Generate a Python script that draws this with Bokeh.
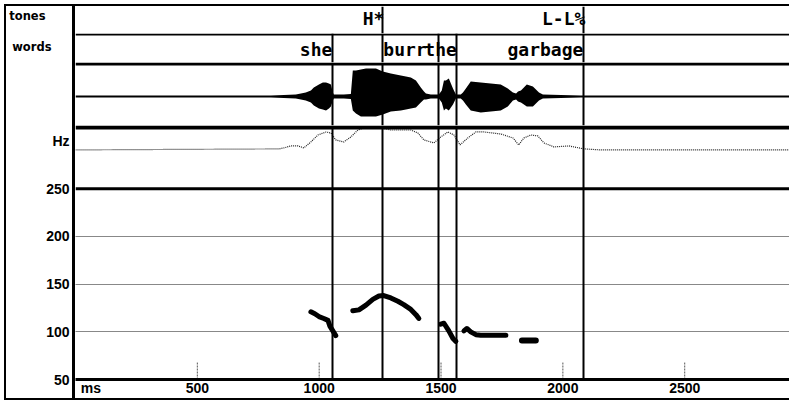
from bokeh.plotting import figure
from bokeh.layouts import column
from bokeh.models import Range1d, Span, FixedTicker
from bokeh.core.properties import value
from bokeh.embed import file_html
from bokeh.resources import INLINE

# ---------------- data ----------------
tone_times = [1259, 2084]
tone_labels = ["H*", "L-L%"]

word_ends = [1054, 1259, 1489, 1565, 2084]
word_labels = ["she", "", "burr", "the", "garbage"]
word_starts = [800, 1054, 1259, 1489, 1565]
word_anchor = ["end", "end", "start", "end", "end"]

# waveform envelope (ms, upper / lower amplitude)
wave_t = [0, 802, 855, 904, 925, 945, 966, 978, 999, 1015, 1028, 1040, 1048, 1056, 1060,
          1101, 1130, 1138, 1151, 1171, 1192, 1233, 1261, 1294, 1335, 1356, 1376, 1397, 1417,
          1430, 1438, 1458, 1491, 1503, 1512, 1520, 1532, 1549, 1561, 1581, 1590, 1602, 1622,
          1663, 1704, 1745, 1774, 1795, 1808, 1816, 1828, 1852, 1877, 1902, 1918, 1992, 2074,
          2115, 2930]
wave_hi = [1, 1, 1.5, 2, 3, 4, 6, 9, 12, 14, 14, 13, 12, 4, 2,
           2, 2.5, 26, 26, 27, 28, 28, 25, 23, 21, 20, 19, 16, 9,
           5, 3, 2, 2, 6, 16, 16, 18, 8, 2, 2, 4, 8, 15,
           14, 13, 12, 8, 4, 3, 5, 6, 12, 10, 4, 2, 1.5, 1,
           1, 1]
wave_lo = [-1, -1, -1.5, -2, -3, -4, -6, -9, -12, -13, -14, -12, -10, -4, -2,
           -2, -2.5, -14, -17, -20, -20, -20, -18, -15, -14, -13, -12, -11, -6,
           -3, -3, -2, -2, -6, -14, -12, -14, -8, -2, -2, -4, -8, -14,
           -16, -15, -14, -10, -4, -3, -5, -6, -10, -10, -4, -2, -1.5, -1,
           -1, -1]

# energy contour (ms, level)
energy_t = [0, 835, 855, 884, 913, 937, 966, 995, 1028, 1048, 1068, 1101, 1130, 1159, 1183,
            1253, 1294, 1376, 1405, 1430, 1471, 1499, 1528, 1553, 1578, 1610, 1643, 1676,
            1745, 1795, 1819, 1840, 1869, 1897, 1922, 1963, 2025, 2086, 2156, 2930]
energy_v = [39, 40, 41, 43, 43, 41, 47, 54, 57, 56, 49, 47, 52, 59, 61,
            61, 59, 59, 56, 49, 46, 52, 57, 54, 44, 51, 57, 57,
            55, 51, 44, 51, 54, 53, 46, 42, 43, 40, 39, 39]

# F0 contour pieces (ms, Hz)
f0_she_t = [966, 982, 999, 1019, 1036, 1044, 1056, 1068]
f0_she_hz = [121, 119, 116, 114, 112, 106, 101, 96]
f0_burr_t = [1138, 1163, 1192, 1220, 1245, 1265, 1294, 1323, 1347, 1376, 1397, 1409]
f0_burr_hz = [122, 123, 128, 134, 137.5, 138, 135.5, 132, 128.5, 123.5, 118, 114]
f0_the_t = [1499, 1512, 1532, 1549, 1561]
f0_the_hz = [108, 109, 101, 93, 90]
f0_gar_t = [1594, 1606, 1622, 1643, 1663, 1704, 1745, 1766]
f0_gar_hz = [101, 103.5, 100, 97, 96.5, 96.5, 96.5, 96.5]
f0_bage_t = [1832, 1852, 1873, 1889]
f0_bage_hz = [91, 91, 91, 91]

x_ticks = [500, 1000, 1500, 2000, 2500]
x_unit_pos = 63
x_tick_labels = {63: "ms"}
hz_ticks = [50, 100, 150, 200, 250, 300]
hz_tick_labels = {300: "Hz"}
hz_grid = [100, 150, 200]

# ---------------- layout constants ----------------
W = 783
LB = 69
X_END = 2930
TONE_H, WORD_H, WAVE_H = 27, 29, 63
MAIN_FRAME, F0_PX, AX_PX = 255, 191.5, 18
EN_PX = MAIN_FRAME - F0_PX

x_range = Range1d(0, X_END)
TIER_FONT = "DejaVu Sans Mono"
AX_FONT = "Liberation Sans"


def base_fig(h, yr, with_y_axis=False):
    p = figure(width=W, height=h, x_range=x_range, y_range=yr,
               output_backend="svg", toolbar_location=None,
               x_axis_location=None, y_axis_location="left" if with_y_axis else None,
               min_border_left=LB, min_border_right=0,
               min_border_top=0, min_border_bottom=0,
               border_fill_color=None, background_fill_color=None,
               outline_line_color=None)
    p.grid.visible = False
    return p


def side_label(p, text, y, standoff):
    ax = p.yaxis[0]
    ax.ticker = FixedTicker(ticks=[y])
    ax.major_label_overrides = {y: text}
    ax.axis_line_color = None
    ax.major_tick_in = 0
    ax.major_tick_out = 0
    ax.minor_tick_line_color = None
    ax.major_label_standoff = standoff
    ax.major_label_text_font = "DejaVu Sans"
    ax.major_label_text_font_style = "bold"
    ax.major_label_text_font_size = "11.5px"
    ax.major_label_text_color = "black"


tier_style = dict(text_font=value(TIER_FONT), text_font_style="bold",
                  text_font_size="18px", text_baseline="middle", text_color="black")

# ---- tones tier ----
tones = base_fig(TONE_H, Range1d(0, 100), with_y_axis=True)
tones.vspan(x=tone_times, line_color="black", line_width=2)
tones.text(x=tone_times, y=[55] * len(tone_times), text=tone_labels,
           text_align="right", x_offset=2, **tier_style)
side_label(tones, "tones", 66, 30)

# ---- words tier ----
words = base_fig(WORD_H, Range1d(0, 100), with_y_axis=True)
upp_w = 100 / WORD_H
words.vspan(x=word_ends, line_color="black", line_width=2)
end_x = [e for e, a in zip(word_ends, word_anchor) if a == "end"]
end_t = [w for w, a in zip(word_labels, word_anchor) if a == "end"]
start_x = [s for s, a in zip(word_starts, word_anchor) if a == "start"]
start_t = [w for w, a in zip(word_labels, word_anchor) if a == "start"]
words.text(x=end_x, y=[44] * len(end_x), text=end_t, text_align="right",
           x_offset=0, **tier_style)
words.text(x=start_x, y=[44] * len(start_x), text=start_t, text_align="left",
           x_offset=1, **tier_style)
words.add_layout(Span(location=100 - 1 * upp_w, dimension="width",
                      line_color="black", line_width=2))
side_label(words, "words", 52, 24)

# ---- waveform ----
wave = base_fig(WAVE_H, Range1d(-29, 34))
wave.varea(x=wave_t, y1=wave_lo, y2=wave_hi, fill_color="black")
wave.vspan(x=word_ends, line_color="black", line_width=2)
wave.add_layout(Span(location=34 - 1.5, dimension="width", line_color="black", line_width=3))

# ---- energy + F0 ----
hz_per_px = (250 - 50) / F0_PX
y_top = 250 + EN_PX * hz_per_px

main = figure(width=W, height=MAIN_FRAME + AX_PX, x_range=x_range,
              y_range=Range1d(50, y_top), output_backend="svg", toolbar_location=None,
              min_border_left=LB, min_border_right=0, min_border_top=0,
              min_border_bottom=AX_PX, border_fill_color=None,
              background_fill_color=None, outline_line_color=None)
main.extra_y_ranges = {"en": Range1d(-F0_PX, EN_PX)}

main.xgrid.visible = False
main.ygrid.ticker = FixedTicker(ticks=hz_grid)
main.ygrid.grid_line_color = "#111111"
main.ygrid.grid_line_dash = "1 1"
main.ygrid.grid_line_width = 1.2

xa = main.xaxis[0]
xa.ticker = FixedTicker(ticks=[x_unit_pos] + x_ticks)
xa.major_label_overrides = x_tick_labels
xa.axis_line_width = 3
xa.axis_line_color = "black"
xa.major_tick_in = 0
xa.major_tick_out = 0
xa.minor_tick_line_color = None
xa.major_label_standoff = 0
xa.major_label_text_font = AX_FONT
xa.major_label_text_font_style = "bold"
xa.major_label_text_font_size = "14px"
xa.major_label_text_color = "black"

ya = main.yaxis[0]
ya.ticker = FixedTicker(ticks=hz_ticks)
ya.major_label_overrides = hz_tick_labels
ya.axis_line_color = None
ya.major_tick_in = 0
ya.major_tick_out = 0
ya.minor_tick_line_color = None
ya.major_label_standoff = 6
ya.major_label_text_font = AX_FONT
ya.major_label_text_font_style = "bold"
ya.major_label_text_font_size = "14px"
ya.major_label_text_color = "black"

# small dotted tick marks standing on the time axis
main.segment(x0=x_ticks, x1=x_ticks, y0=[50] * len(x_ticks),
             y1=[50 + 17 * hz_per_px] * len(x_ticks),
             line_color="#555555", line_width=1, line_dash="2 1")

main.line(x=energy_t, y=energy_v, y_range_name="en", line_color="#222222",
          line_width=1.2, line_dash="1 1")
main.vspan(x=word_ends, line_color="black", line_width=2)
main.add_layout(Span(location=y_top - 2 * hz_per_px, dimension="width",
                     line_color="black", line_width=4))
main.add_layout(Span(location=250, dimension="width", line_color="black", line_width=3))

main.multi_line(xs=[f0_she_t, f0_burr_t, f0_the_t, f0_gar_t],
                ys=[f0_she_hz, f0_burr_hz, f0_the_hz, f0_gar_hz],
                line_color="black", line_width=5, line_join="round", line_cap="round")
main.line(x=f0_bage_t, y=f0_bage_hz, line_color="black", line_width=6, line_cap="round")

layout = column(tones, words, wave, main, spacing=0, margin=(4, 0, 0, 4),
                styles={"border-top": "2px solid black",
                        "border-bottom": "2px solid black",
                        "border-left": "2px solid black",
                        "background": "linear-gradient(90deg, transparent 66px, black 66px, black 69px, transparent 69px)"})

with open("out.html", "w") as f:
    f.write(file_html(layout, INLINE, title="tones and F0"))
